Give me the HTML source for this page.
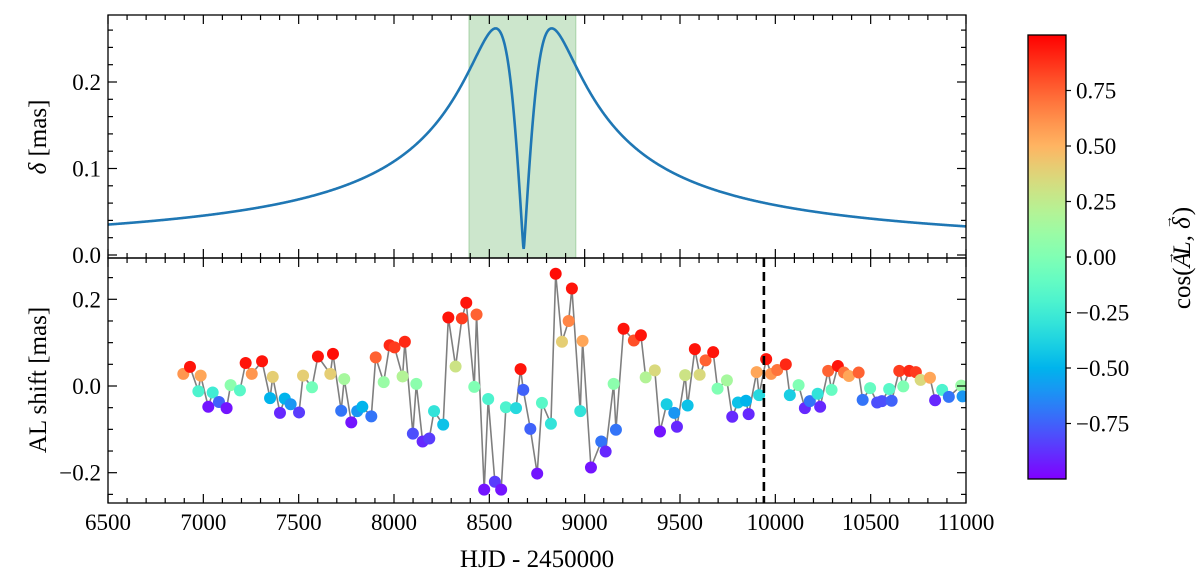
<!DOCTYPE html>
<html><head><meta charset="utf-8">
<style>
html,body{margin:0;padding:0;background:#fff;}
svg{display:block;font-family:"Liberation Serif","DejaVu Serif",serif;}
</style></head>
<body>
<svg id="chart" width="1200" height="574" viewBox="0 0 1200 574" xmlns="http://www.w3.org/2000/svg">
<defs>
<clipPath id="clipTop"><rect x="108" y="15" width="858" height="243"/></clipPath>
<clipPath id="clipBot"><rect x="108" y="258" width="858" height="245"/></clipPath>
<linearGradient id="cbgrad" x1="0" y1="1" x2="0" y2="0"></linearGradient>
</defs>
<g id="topPanel"></g>
<g id="botPanel"></g>
<g id="cbarPanel"></g>
<text x="0" y="0" font-size="25" text-anchor="middle" transform="translate(46,137) rotate(-90)"><tspan font-style="italic">δ</tspan> [mas]</text>
<text x="0" y="0" font-size="25" text-anchor="middle" transform="translate(46,380) rotate(-90)">AL shift [mas]</text>
<text x="537" y="567" font-size="25" text-anchor="middle">HJD - 2450000</text>
<text x="0" y="0" font-size="25" text-anchor="middle" transform="translate(1190,258) rotate(-90)">cos(<tspan font-style="italic">A</tspan><tspan dx="-13" dy="-16" font-size="14">→</tspan><tspan dx="-4" dy="16" font-style="italic">L</tspan>, <tspan font-style="italic">δ</tspan><tspan dx="-12" dy="-18" font-size="14">→</tspan><tspan dy="18">)</tspan></text>
</svg>
<script>
// ---- data ----
const obsTimes = [6895,6930,6974,6986,7026,7049,7082,7122,7143,7192,7222,7254,7308,7350,7364,7402,7427,7458,7502,7523,7570,7601,7666,7680,7723,7739,7776,7807,7834,7881,7904,7946,7977,8003,8045,8057,8099,8117,8150,8185,8210,8258,8285,8323,8356,8379,8421,8433,8473,8494,8529,8562,8587,8640,8664,8678,8715,8751,8776,8823,8848,8881,8916,8933,8977,8989,9033,9087,9110,9152,9164,9204,9258,9295,9320,9368,9395,9430,9470,9484,9527,9540,9578,9603,9634,9674,9697,9746,9774,9804,9846,9860,9902,9915,9952,9978,10010,10055,10076,10122,10155,10181,10222,10235,10277,10295,10328,10360,10386,10437,10458,10497,10534,10559,10597,10610,10650,10671,10702,10737,10762,10811,10838,10875,10910,10975,10982];
const alShift = [0.028,0.044,-0.012,0.024,-0.048,-0.015,-0.037,-0.051,0.002,-0.010,0.053,0.028,0.057,-0.028,0.021,-0.062,-0.029,-0.042,-0.061,0.024,-0.003,0.068,0.028,0.074,-0.057,0.016,-0.084,-0.058,-0.048,-0.070,0.066,0.009,0.094,0.089,0.022,0.102,-0.110,0.005,-0.128,-0.121,-0.058,-0.089,0.158,0.045,0.156,0.192,-0.002,0.165,-0.239,-0.030,-0.221,-0.239,-0.049,-0.051,0.039,-0.009,-0.099,-0.202,-0.039,-0.087,0.259,0.102,0.150,0.225,-0.058,0.104,-0.188,-0.128,-0.151,0.005,-0.101,0.132,0.105,0.117,0.020,0.036,-0.105,-0.042,-0.062,-0.094,0.025,-0.045,0.085,0.026,0.059,0.078,-0.006,0.013,-0.071,-0.038,-0.034,-0.065,0.032,-0.021,0.062,0.028,0.037,0.050,-0.021,0.002,-0.051,-0.035,-0.018,-0.048,0.035,-0.009,0.046,0.031,0.023,0.031,-0.032,-0.005,-0.038,-0.035,-0.007,-0.034,0.035,-0.001,0.035,0.032,0.014,0.019,-0.033,-0.009,-0.025,0.001,-0.024];
const cosAngle = [0.6,0.95,-0.2,0.55,-0.95,-0.25,-0.75,-0.95,0.05,-0.15,0.95,0.6,0.95,-0.5,0.4,-0.9,-0.5,-0.6,-0.85,0.4,-0.05,0.95,0.4,0.97,-0.7,0.15,-0.95,-0.6,-0.5,-0.7,0.75,0.1,0.9,0.85,0.2,0.9,-0.8,0.05,-0.9,-0.85,-0.3,-0.45,0.95,0.3,0.85,0.95,0,0.75,-0.95,-0.2,-0.85,-0.95,-0.2,-0.35,0.95,-0.75,-0.75,-0.95,-0.15,-0.3,0.97,0.4,0.65,0.95,-0.3,0.55,-0.95,-0.7,-0.9,0.05,-0.7,0.95,0.8,0.95,0.2,0.35,-0.95,-0.4,-0.6,-0.9,0.3,-0.45,0.95,0.35,0.75,0.95,0,0.15,-0.9,-0.45,-0.5,-0.9,0.55,-0.35,0.95,0.6,0.7,0.9,-0.4,0,-0.9,-0.7,-0.3,-0.9,0.75,-0.1,0.95,0.7,0.55,0.75,-0.7,-0.1,-0.8,-0.8,-0.15,-0.75,0.85,0,0.9,0.85,0.35,0.55,-0.9,-0.2,-0.7,0.1,-0.6];
const modelParams = {t0: 8680, tE: 104, u0: 0.019, thetaE: 0.741};
const highlightSpan = [8393, 8954];
const markerTime = 9940;
const xTicks = [6500,7000,7500,8000,8500,9000,9500,10000,10500,11000];
const topYTicks = [0.0,0.1,0.2];
const botYTicks = [-0.2,0.0,0.2];
const cbTicks = [0.75,0.5,0.25,0,-0.25,-0.5,-0.75];
const cbTickLabels = ["0.75","0.50","0.25","0.00","−0.25","−0.50","−0.75"];

// ---- scales ----
const X0=108, X1=966, XMIN=6500, XMAX=11000;
const xs = v => X0 + (v-XMIN)/(XMAX-XMIN)*(X1-X0);
const TOP0=15, TOP1=258, yTop = v => 255 - v*865;
const BOT0=258, BOT1=503, yBot = v => 386 - v*433.5;
const CB0=35, CB1=479, cbY = v => CB1 - (v+1)/2*(CB1-CB0);
function rainbow(v){
  const x=(v+1)/2;
  const cl=a=>Math.max(0,Math.min(1,a));
  const r=cl(Math.abs(2*x-0.5)), g=cl(Math.sin(Math.PI*x)), b=cl(Math.cos(Math.PI*x/2));
  return `rgb(${Math.round(r*255)},${Math.round(g*255)},${Math.round(b*255)})`;
}
const NS="http://www.w3.org/2000/svg";
function el(tag, parent, attrs){const e=document.createElementNS(NS,tag);for(const k in attrs)e.setAttribute(k,attrs[k]);parent.appendChild(e);return e;}

const gTop=document.getElementById('topPanel'), gBot=document.getElementById('botPanel'), gCb=document.getElementById('cbarPanel');

let span=el('rect',gTop,{x:xs(highlightSpan[0]),y:TOP0,width:xs(highlightSpan[1])-xs(highlightSpan[0]),height:TOP1-TOP0,fill:'rgba(0,128,0,0.2)',stroke:'rgba(0,128,0,0.25)'});



let d='';
for(let i=0;i<=2000;i++){
  const t=XMIN+(XMAX-XMIN)*i/2000;
  const tau=(t-modelParams.t0)/modelParams.tE;
  const u=Math.sqrt(modelParams.u0*modelParams.u0+tau*tau);
  const dl=modelParams.thetaE*u/(u*u+2);
  d+=(i?'L':'M')+xs(t).toFixed(2)+','+yTop(dl).toFixed(2);
}
let curve=el('path',gTop,{d:d,fill:'none',stroke:'#1f77b4','stroke-width':2.6,'clip-path':'url(#clipTop)'});



let ld=obsTimes.map((t,i)=>(i?'L':'M')+xs(t).toFixed(2)+','+yBot(alShift[i]).toFixed(2)).join('');
const bclip=el('g',gBot,{'clip-path':'url(#clipBot)'});
let line=el('path',bclip,{d:ld,fill:'none',stroke:'#7f7f7f','stroke-width':1.6});


obsTimes.forEach((t,i)=>{
  const c=el('circle',bclip,{cx:xs(t),cy:yBot(alShift[i]),r:6,fill:rainbow(cosAngle[i])});
  
  
});
let vl=el('line',gBot,{x1:xs(markerTime),x2:xs(markerTime),y1:BOT0,y2:BOT1,stroke:'#000','stroke-width':2.6,'stroke-dasharray':'9,5'});



function frame(g,y0,y1){
  const r=el('rect',g,{x:X0,y:y0,width:X1-X0,height:y1-y0,fill:'none',stroke:'#000','stroke-width':1.3});
  
  
  for(let v=XMIN;v<=XMAX;v+=100){
    const maj=(v%500===0), L=maj?9:5, x=xs(v);
    el('line',g,{x1:x,x2:x,y1:y1,y2:y1-L,stroke:'#000','stroke-width':1.2});
    el('line',g,{x1:x,x2:x,y1:y0,y2:y0+L,stroke:'#000','stroke-width':1.2});
  }
}
function yticks(g,ys,lo,hi,step,majStep,labels,y0,y1){
  for(let k=Math.ceil(lo/step-1e-6);k*step<=hi+1e-9;k++){
    const v=k*step, y=ys(v); if(y<y0-0.5||y>y1+0.5) continue;
    const maj=Math.abs(v/majStep-Math.round(v/majStep))<1e-6, L=maj?9:5;
    el('line',g,{x1:X0,x2:X0+L,y1:y,y2:y,stroke:'#000','stroke-width':1.2});
    el('line',g,{x1:X1,x2:X1-L,y1:y,y2:y,stroke:'#000','stroke-width':1.2});
  }
  labels.forEach(v=>{
    const t=el('text',g,{x:X0-7,y:ys(v)+8,'font-size':23,'text-anchor':'end'});
    t.textContent=(v<0?'−':'')+Math.abs(v).toFixed(1);
    
    
  });
}
frame(gTop,TOP0,TOP1);
yticks(gTop,yTop,-0.01,0.28,0.02,0.1,topYTicks,TOP0,TOP1);
frame(gBot,BOT0,BOT1);
yticks(gBot,yBot,-0.3,0.3,0.05,0.2,botYTicks,BOT0,BOT1);
xTicks.forEach(v=>{
  const t=el('text',gBot,{x:xs(v),y:530,'font-size':23,'text-anchor':'middle'});
  t.textContent=String(v);
  
  
});

const grad=document.getElementById('cbgrad');
for(let i=0;i<=20;i++){el('stop',grad,{offset:(i/20),'stop-color':rainbow(-1+2*i/20)});}
let cb=el('rect',gCb,{x:1028,y:CB0,width:38,height:CB1-CB0,fill:'url(#cbgrad)',stroke:'#000','stroke-width':1.3});


cbTicks.forEach((v,i)=>{
  const y=cbY(v);
  el('line',gCb,{x1:1066,x2:1071,y1:y,y2:y,stroke:'#000','stroke-width':1.2});
  const t=el('text',gCb,{x:1076,y:y+8,'font-size':23});
  t.textContent=cbTickLabels[i];
  
  
});
</script>
</body></html>
